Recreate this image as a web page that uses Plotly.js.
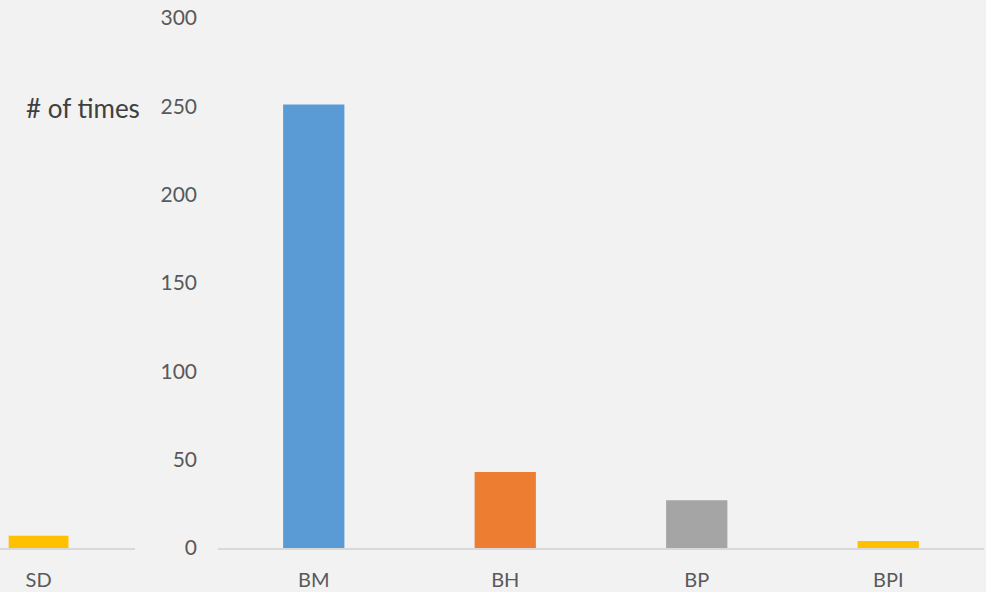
<!DOCTYPE html>
<html>
<head>
<meta charset="utf-8">
<script src="https://cdn.plot.ly/plotly-3.0.1.min.js"></script>
<style>html,body{margin:0;padding:0;background:#f2f2f2;}#chart{width:986px;height:592px;}</style>
</head>
<body>
<div id="chart"></div>
<script>
// Data
var leftCategories = ['SD'];
var leftValues = [7];
var mainCategories = ['BM', 'BH', 'BP', 'BPI'];
var mainValues = [251, 43, 27, 4];
var yTickVals = [0, 50, 100, 150, 200, 250, 300];

var leftColors = ['#FFC000'];
var mainColors = ['#5B9BD5', '#ED7D31', '#A5A5A5', '#FFC000'];

var fontFam = 'Lato, "Open Sans", sans-serif';

var traces = [
  {type: 'bar', x: leftCategories, y: leftValues, xaxis: 'x', yaxis: 'y',
   marker: {color: leftColors}, width: 0.31, hoverinfo: 'x+y', showlegend: false},
  {type: 'bar', x: mainCategories, y: mainValues, xaxis: 'x2', yaxis: 'y',
   marker: {color: mainColors}, width: 0.32, hoverinfo: 'x+y', showlegend: false}
];

var layout = {
  width: 986, height: 592,
  paper_bgcolor: '#f2f2f2', plot_bgcolor: 'rgba(0,0,0,0)',
  margin: {l: 0, r: 0, t: 18, b: 44, pad: 0},
  font: {family: fontFam, color: '#595959', size: 20},
  xaxis: {domain: [0, 135/986], range: [-0.2, 0.5], anchor: 'y', type: 'category',
          showline: true, linecolor: '#d9d9d9', linewidth: 2, showgrid: false,
          zeroline: false, ticks: '', ticklabelstandoff: 13, fixedrange: true,
          tickfont: {size: 20, color: '#595959'}},
  xaxis2: {domain: [218/986, 984/986], range: [-0.5, 3.5], anchor: 'y', type: 'category',
           showline: true, linecolor: '#d9d9d9', linewidth: 2, showgrid: false,
           zeroline: false, ticks: '', ticklabelstandoff: 13, fixedrange: true,
           tickfont: {size: 20, color: '#595959'}},
  yaxis: {range: [0, 300], anchor: 'x2', tickvals: yTickVals, showgrid: false,
          zeroline: false, showline: false, ticks: '', ticklabelstandoff: 20,
          tickfont: {size: 21, color: '#595959'}, fixedrange: true},
  annotations: [{
    text: '# of times', xref: 'paper', yref: 'paper', x: 24/986, y: (592-108-44)/(592-18-44),
    xanchor: 'left', yanchor: 'middle', showarrow: false,
    font: {family: fontFam, size: 26, color: '#404040'}
  }],
  bargap: 0.68
};

Plotly.newPlot('chart', traces, layout, {displayModeBar: false, staticPlot: true});
</script>
</body>
</html>
